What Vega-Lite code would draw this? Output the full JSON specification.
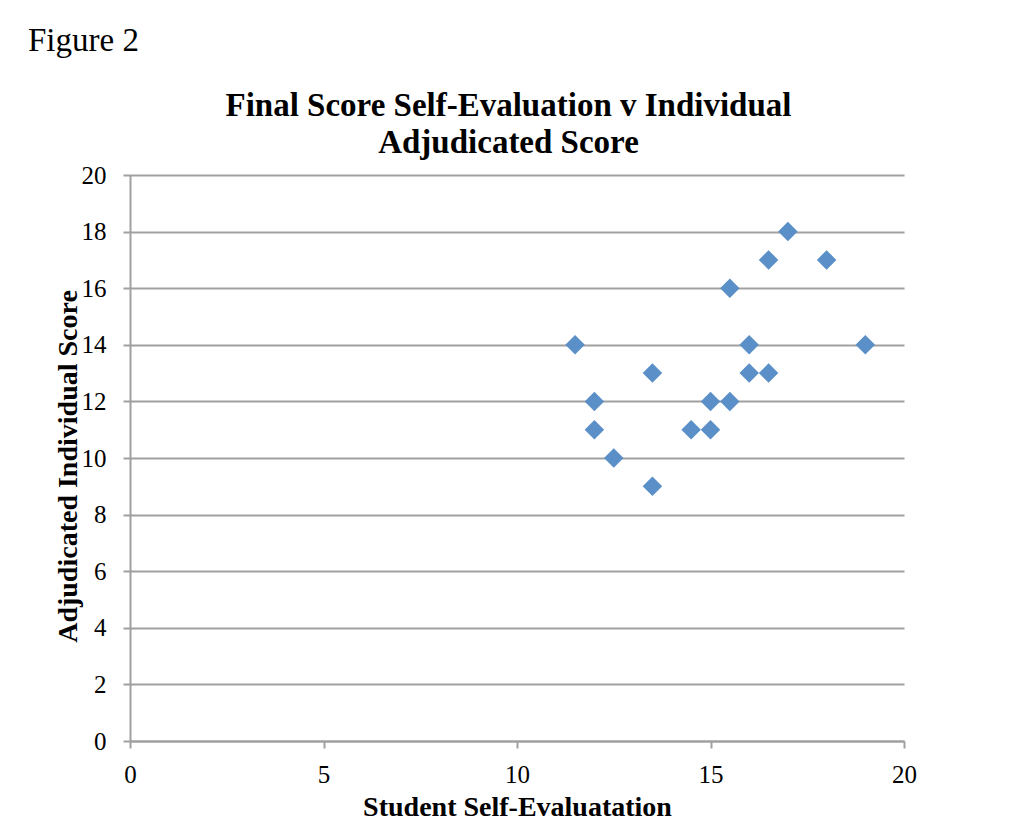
{
  "$schema": "https://vega.github.io/schema/vega-lite/v6.json",
  "width": 774,
  "height": 566,
  "autosize": {"type": "none"},
  "padding": {"left": 130, "top": 175, "right": 107, "bottom": 89},
  "background": "white",
  "title": {
    "text": "Figure 2",
    "anchor": "start",
    "frame": "group",
    "dx": -102,
    "font": "Liberation Serif",
    "fontSize": 33,
    "fontWeight": "normal",
    "color": "black",
    "offset": 31
  },
  "data": {
    "values": [
      {"self": 11.5, "adjudicated": 14},
      {"self": 12, "adjudicated": 12},
      {"self": 12, "adjudicated": 11},
      {"self": 12.5, "adjudicated": 10},
      {"self": 13.5, "adjudicated": 13},
      {"self": 13.5, "adjudicated": 9},
      {"self": 14.5, "adjudicated": 11},
      {"self": 15, "adjudicated": 12},
      {"self": 15, "adjudicated": 11},
      {"self": 15.5, "adjudicated": 16},
      {"self": 15.5, "adjudicated": 12},
      {"self": 16, "adjudicated": 14},
      {"self": 16, "adjudicated": 13},
      {"self": 16.5, "adjudicated": 17},
      {"self": 16.5, "adjudicated": 13},
      {"self": 17, "adjudicated": 18},
      {"self": 18, "adjudicated": 17},
      {"self": 19, "adjudicated": 14}
    ]
  },
  "layer": [
    {
      "mark": {"type": "point", "shape": "diamond", "filled": true, "size": 380, "color": "#5B8FC7", "opacity": 1, "strokeWidth": 0},
      "encoding": {
        "x": {
          "field": "self",
          "type": "quantitative",
          "scale": {"domain": [0, 20], "nice": false, "zero": true},
          "axis": {
            "orient": "bottom",
            "values": [0, 5, 10, 15, 20],
            "grid": false,
            "labelFlush": false,
            "labelPadding": 14,
            "title": "Student Self-Evaluatation",
            "titleX": 387,
            "titleY": 74,
            "titleBaseline": "alphabetic",
            "titleAlign": "center"
          }
        },
        "y": {
          "field": "adjudicated",
          "type": "quantitative",
          "scale": {"domain": [0, 20], "nice": false},
          "axis": {
            "values": [0, 2, 4, 6, 8, 10, 12, 14, 16, 18, 20],
            "grid": true,
            "labelFlush": false,
            "labelPadding": 17,
            "title": "Adjudicated Individual Score",
            "titleX": -54,
            "titleY": 291,
            "titleAngle": -90,
            "titleBaseline": "alphabetic",
            "titleAlign": "center"
          }
        }
      }
    },
    {
      "mark": {"type": "point", "opacity": 0},
      "encoding": {
        "x": {
          "field": "self",
          "type": "quantitative",
          "axis": {
            "orient": "top",
            "domain": false,
            "ticks": false,
            "labels": false,
            "grid": false,
            "title": ["Final Score Self-Evaluation v Individual", "Adjudicated Score"],
            "titleFontSize": 33,
            "titleLineHeight": 37,
            "titleX": 378,
            "titleY": -60,
            "titleBaseline": "alphabetic",
            "titleAlign": "center",
            "titleAngle": 0
          }
        }
      }
    }
  ],
  "resolve": {"axis": {"x": "independent"}},
  "config": {
    "view": {"stroke": null},
    "axis": {
      "labelFont": "Liberation Serif",
      "labelFontSize": 25,
      "labelColor": "black",
      "titleFont": "Liberation Serif",
      "titleFontSize": 28,
      "titleFontWeight": "bold",
      "titleColor": "black",
      "domainColor": "#a0a0a0",
      "domainWidth": 2,
      "tickColor": "#a0a0a0",
      "tickWidth": 2,
      "tickSize": 7,
      "gridColor": "#a0a0a0",
      "gridWidth": 2
    }
  }
}
